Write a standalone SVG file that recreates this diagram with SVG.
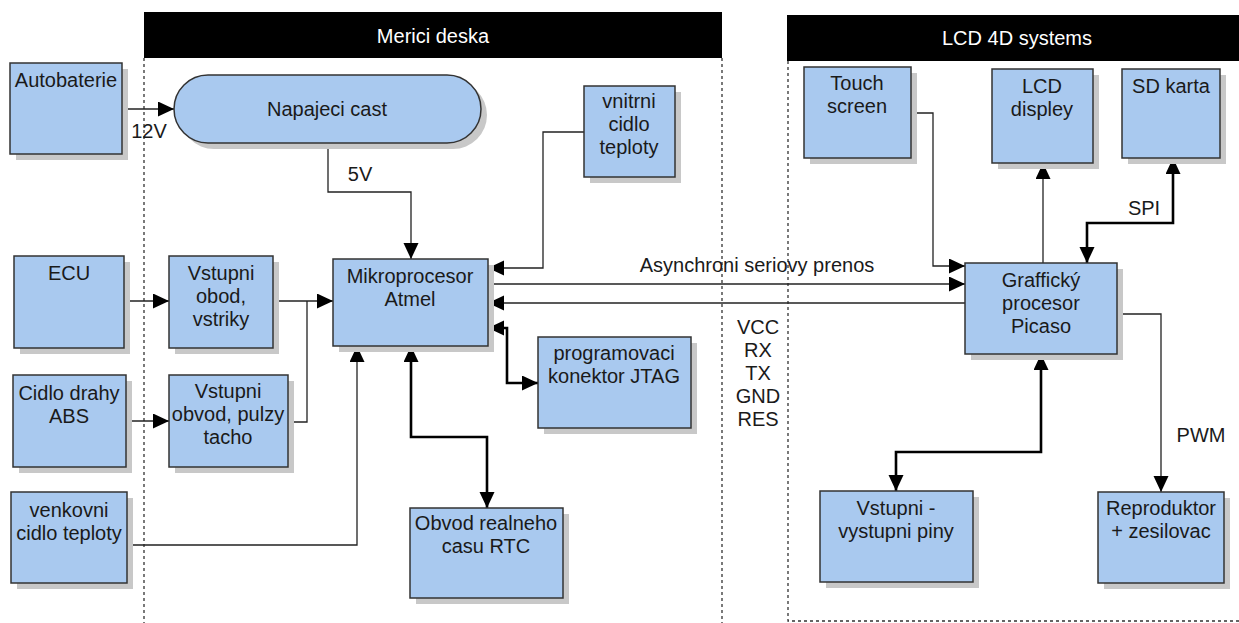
<svg xmlns="http://www.w3.org/2000/svg" width="1239" height="623" viewBox="0 0 1239 623">
<style>
text{font-family:"Liberation Sans",Arial,sans-serif;font-size:20px;fill:#1a1a1a;text-anchor:middle}
.hd{fill:#fff}
.box{fill:#a9c9ef;stroke:#333;stroke-width:1.5}
.sh{fill:#c8c8c8}
.lane{fill:#000}
.dash{fill:none;stroke:#333;stroke-width:1.3;stroke-dasharray:3 3}
.c{fill:none;stroke:#222;stroke-width:1.3}
.t{fill:none;stroke:#000;stroke-width:2.6}
</style>
<defs>
<marker id="a" markerUnits="userSpaceOnUse" markerWidth="17" markerHeight="16" refX="16" refY="7.5" orient="auto-start-reverse"><path d="M0,0 L16,7.5 L0,15 z" fill="#000"/></marker>
</defs>
<rect width="1239" height="623" fill="#fff"/>
<g id="lane-merici">
<rect class="lane" x="144" y="12" width="578" height="46"/>
<text class="hd" x="433" y="43">Merici deska</text>
<path class="dash" d="M144,58 V623 M722,58 V623"/>
</g>
<g id="lane-lcd">
<rect class="lane" x="787" y="15" width="460" height="46"/>
<text class="hd" x="1017" y="45">LCD 4D systems</text>
<path class="dash" d="M788,61 V621 H1239"/>
</g>
<g id="connectors">
<path class="c" d="M122,109 H174" marker-end="url(#a)"/>
<path class="c" d="M328,143 V192 H411 V259" marker-end="url(#a)"/>
<path class="c" d="M124,301 H169" marker-end="url(#a)"/>
<path class="c" d="M273,301 H333" marker-end="url(#a)"/>
<path class="c" d="M288,422 H307 V301"/>
<path class="c" d="M126,421 H169" marker-end="url(#a)"/>
<path class="c" d="M127,545 H357 V346" marker-end="url(#a)"/>
<path class="c" d="M584,132 H543 V268 H488" marker-end="url(#a)"/>
<path class="c" d="M488,284 H965" marker-end="url(#a)"/>
<path class="c" d="M965,303 H488" marker-end="url(#a)"/>
<path class="t" d="M488,328 H507 V383 H538" marker-start="url(#a)" marker-end="url(#a)"/>
<path class="t" d="M411,346 V437 H487 V508" marker-start="url(#a)" marker-end="url(#a)"/>
<path class="c" d="M911,113 H933 V266 H965" marker-end="url(#a)"/>
<path class="c" d="M1043,263 V163" marker-end="url(#a)"/>
<path class="t" d="M1173,158 V223 H1087 V263" marker-start="url(#a)" marker-end="url(#a)"/>
<path class="c" d="M1117,314 H1161 V492" marker-end="url(#a)"/>
<path class="t" d="M1041,354 V452 H896 V491" marker-start="url(#a)" marker-end="url(#a)"/>
<text x="149" y="138">12V</text>
<text x="360" y="181">5V</text>
<text x="757" y="272">Asynchroni seriovy prenos</text>
<text x="758" y="334">VCC</text>
<text x="758" y="357">RX</text>
<text x="758" y="380">TX</text>
<text x="758" y="403">GND</text>
<text x="758" y="426">RES</text>
<text x="1144" y="215">SPI</text>
<text x="1201" y="442">PWM</text>
</g>
<g id="autobaterie"><rect class="sh" x="16" y="69" width="112" height="91"/><rect class="box" x="10" y="63" width="112" height="91"/><text x="66" y="87">Autobaterie</text></g>
<g id="napajeci"><rect class="sh" x="180" y="81" width="307" height="68" rx="34"/><rect class="box" x="174" y="75" width="307" height="68" rx="34"/><text x="327" y="116">Napajeci cast</text></g>
<g id="ecu"><rect class="sh" x="20" y="262" width="110" height="92"/><rect class="box" x="14" y="256" width="110" height="92"/><text x="69" y="280">ECU</text></g>
<g id="vstupni-obod"><rect class="sh" x="175" y="262" width="104" height="92"/><rect class="box" x="169" y="256" width="104" height="92"/><text x="221" y="280">Vstupni</text><text x="221" y="303">obod,</text><text x="221" y="326">vstriky</text></g>
<g id="abs"><rect class="sh" x="19" y="381" width="113" height="92"/><rect class="box" x="13" y="375" width="113" height="92"/><text x="69" y="400">Cidlo drahy</text><text x="69" y="423">ABS</text></g>
<g id="vstupni-obvod"><rect class="sh" x="175" y="381" width="119" height="92"/><rect class="box" x="169" y="375" width="119" height="92"/><text x="228" y="398">Vstupni</text><text x="228" y="421">obvod, pulzy</text><text x="228" y="444">tacho</text></g>
<g id="venkovni"><rect class="sh" x="17" y="498" width="116" height="91"/><rect class="box" x="11" y="492" width="116" height="91"/><text x="69" y="517">venkovni</text><text x="69" y="540">cidlo teploty</text></g>
<g id="mikro"><rect class="sh" x="339" y="265" width="155" height="87"/><rect class="box" x="333" y="259" width="155" height="87"/><text x="410" y="283">Mikroprocesor</text><text x="410" y="306">Atmel</text></g>
<g id="vnitrni"><rect class="sh" x="590" y="92" width="91" height="91"/><rect class="box" x="584" y="86" width="91" height="91"/><text x="629" y="108">vnitrni</text><text x="629" y="131">cidlo</text><text x="629" y="154">teploty</text></g>
<g id="jtag"><rect class="sh" x="544" y="343" width="153" height="91"/><rect class="box" x="538" y="337" width="153" height="91"/><text x="614" y="360">programovaci</text><text x="614" y="383">konektor JTAG</text></g>
<g id="rtc"><rect class="sh" x="416" y="514" width="153" height="90"/><rect class="box" x="410" y="508" width="153" height="90"/><text x="486" y="530">Obvod realneho</text><text x="486" y="553">casu RTC</text></g>
<g id="touch"><rect class="sh" x="810" y="73" width="107" height="91"/><rect class="box" x="804" y="67" width="107" height="91"/><text x="857" y="90">Touch</text><text x="857" y="113">screen</text></g>
<g id="lcd"><rect class="sh" x="998" y="75" width="101" height="94"/><rect class="box" x="992" y="69" width="101" height="94"/><text x="1042" y="93">LCD</text><text x="1042" y="116">displey</text></g>
<g id="sd"><rect class="sh" x="1128" y="75" width="98" height="89"/><rect class="box" x="1122" y="69" width="98" height="89"/><text x="1171" y="93">SD karta</text></g>
<g id="grafficky"><rect class="sh" x="971" y="269" width="152" height="91"/><rect class="box" x="965" y="263" width="152" height="91"/><text x="1041" y="287">Graffický</text><text x="1041" y="310">procesor</text><text x="1041" y="333">Picaso</text></g>
<g id="piny"><rect class="sh" x="826" y="497" width="153" height="91"/><rect class="box" x="820" y="491" width="153" height="91"/><text x="896" y="515">Vstupni -</text><text x="896" y="538">vystupni piny</text></g>
<g id="reproduktor"><rect class="sh" x="1104" y="498" width="126" height="91"/><rect class="box" x="1098" y="492" width="126" height="91"/><text x="1161" y="515">Reproduktor</text><text x="1161" y="538">+ zesilovac</text></g>
</svg>
